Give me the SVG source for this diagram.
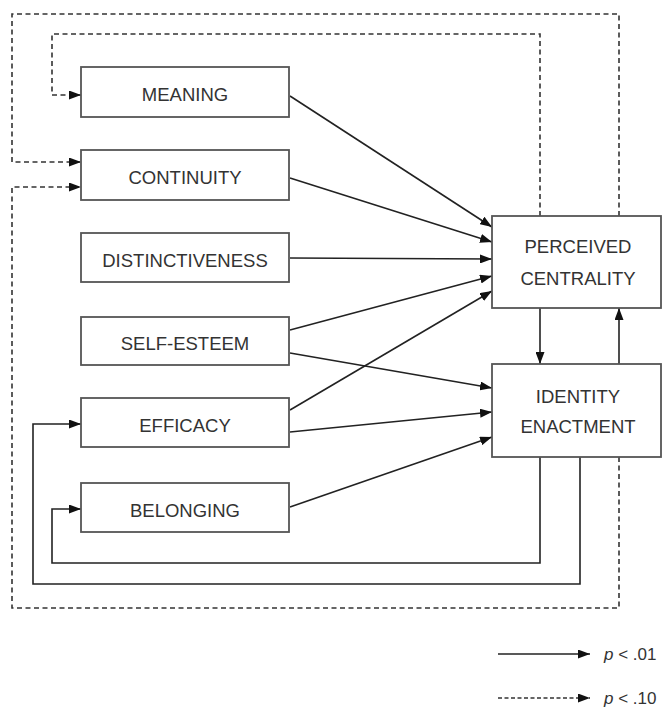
<svg xmlns="http://www.w3.org/2000/svg" width="663" height="711" viewBox="0 0 663 711">
<style>
.box{fill:#fff;stroke:#555;stroke-width:1.8}
.lbl{font-family:"Liberation Sans",Arial,sans-serif;font-size:18.5px;fill:#333;text-anchor:middle}
.c{fill:none;stroke:#222;stroke-width:1.6}
.d{fill:none;stroke:#333;stroke-width:1.6;stroke-dasharray:5,3.5}
.leg{font-family:"Liberation Sans",Arial,sans-serif;font-size:17px;fill:#333}
</style>
<defs>
<marker id="ah" viewBox="0 0 12 9" refX="12" refY="4.5" markerWidth="12" markerHeight="9" orient="auto" markerUnits="userSpaceOnUse">
<path d="M0,0 L12,4.5 L0,9 z" fill="#111"/>
</marker>
</defs>
<rect width="663" height="711" fill="#fff"/>
<g id="connectors">
<line class="c" x1="290" y1="96" x2="492" y2="227" marker-end="url(#ah)"/>
<line class="c" x1="290" y1="178" x2="492" y2="242" marker-end="url(#ah)"/>
<line class="c" x1="290" y1="258" x2="492" y2="259" marker-end="url(#ah)"/>
<line class="c" x1="290" y1="330" x2="492" y2="276" marker-end="url(#ah)"/>
<line class="c" x1="290" y1="410" x2="492" y2="291" marker-end="url(#ah)"/>
<line class="c" x1="290" y1="353" x2="492" y2="388" marker-end="url(#ah)"/>
<line class="c" x1="290" y1="432" x2="492" y2="412" marker-end="url(#ah)"/>
<line class="c" x1="290" y1="507" x2="492" y2="437" marker-end="url(#ah)"/>
<line class="c" x1="540" y1="308" x2="540" y2="364" marker-end="url(#ah)"/>
<line class="c" x1="619" y1="364" x2="619" y2="308" marker-end="url(#ah)"/>
<path class="c" d="M540,457 V563 H52 V509 H81" marker-end="url(#ah)"/>
<path class="c" d="M580,457 V584 H33 V424 H81" marker-end="url(#ah)"/>
<path class="d" d="M540,216 V34 H52 V95 H81" marker-end="url(#ah)"/>
<path class="d" d="M619,216 V14 H12 V162 H81" marker-end="url(#ah)"/>
<path class="d" d="M619,457 V608 H12 V187 H81" marker-end="url(#ah)"/>
</g>
<g id="meaning"><rect class="box" x="81" y="67" width="208" height="50"/><text class="lbl" x="185" y="101">MEANING</text></g>
<g id="continuity"><rect class="box" x="81" y="150" width="208" height="50"/><text class="lbl" x="185" y="184">CONTINUITY</text></g>
<g id="distinctiveness"><rect class="box" x="81" y="233" width="208" height="49"/><text class="lbl" x="185" y="267">DISTINCTIVENESS</text></g>
<g id="self-esteem"><rect class="box" x="81" y="317" width="208" height="48"/><text class="lbl" x="185" y="350">SELF-ESTEEM</text></g>
<g id="efficacy"><rect class="box" x="81" y="398" width="208" height="49"/><text class="lbl" x="185" y="432">EFFICACY</text></g>
<g id="belonging"><rect class="box" x="81" y="483" width="208" height="49"/><text class="lbl" x="185" y="517">BELONGING</text></g>
<g id="perceived-centrality"><rect class="box" x="492" y="216" width="169" height="92"/><text class="lbl" x="578" y="253">PERCEIVED</text><text class="lbl" x="578" y="285">CENTRALITY</text></g>
<g id="identity-enactment"><rect class="box" x="492" y="364" width="169" height="93"/><text class="lbl" x="578" y="403">IDENTITY</text><text class="lbl" x="578" y="433">ENACTMENT</text></g>
<g id="legend">
<line class="c" x1="498" y1="654" x2="590" y2="654" marker-end="url(#ah)"/>
<text class="leg" x="604" y="660"><tspan font-style="italic">p</tspan> &lt; .01</text>
<line class="d" x1="498" y1="698" x2="590" y2="698" style="stroke-dasharray:4,2.5" marker-end="url(#ah)"/>
<text class="leg" x="604" y="704"><tspan font-style="italic">p</tspan> &lt; .10</text>
</g>
</svg>
